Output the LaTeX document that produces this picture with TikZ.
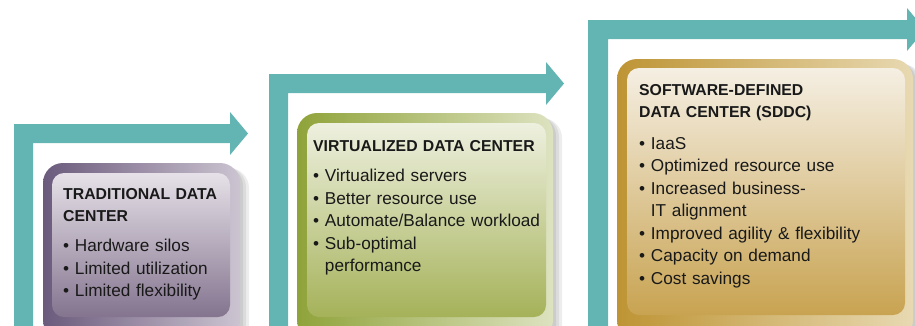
\documentclass[tikz,border=0pt]{standalone}
\usepackage{fontspec}
\setmainfont{Liberation Sans}
\definecolor{arrowteal}{HTML}{62B5B3}
\definecolor{tradframe}{HTML}{6B5A7C}
\definecolor{tradedge}{HTML}{CCC4D1}
\definecolor{tradtop}{HTML}{E6E1E8}
\definecolor{tradbot}{HTML}{84748F}
\definecolor{virtframe}{HTML}{8FA33A}
\definecolor{virtedge}{HTML}{DDE2C0}
\definecolor{virttop}{HTML}{EEF0DF}
\definecolor{virtbot}{HTML}{A5B259}
\definecolor{sddcframe}{HTML}{BE9434}
\definecolor{sddcedge}{HTML}{E8D9B2}
\definecolor{sddctop}{HTML}{F5EFE3}
\definecolor{sddcbot}{HTML}{C8A351}
\tikzset{
  steparrow/.style={fill=arrowteal},
  boxshadow/.style={fill=black,opacity=0.07,rounded corners=20pt},
  boxtitle/.style={anchor=base west,inner sep=0pt,text width=280pt,align=left,
    font=\fontsize{15.8}{22.7}\selectfont\bfseries,text=black!90},
  boxlist/.style={anchor=base west,inner sep=0pt,text width=280pt,align=left,
    font=\fontsize{17.2}{22.5}\selectfont,text=black!90}
}
\newcommand{\itm}{\textbullet\ }
\newcommand{\cnt}{\phantom{\textbullet}\ }
\begin{document}
\begin{tikzpicture}[x=1pt,y=-1pt]
  \clip (0,0) rectangle (915,325);
  % bent arrows
  \fill[steparrow] (14,340) -- (14,124) -- (230,124) -- (230,112) -- (248,133.5)
    -- (230,155) -- (230,143) -- (33,143) -- (33,340) -- cycle;
  \fill[steparrow] (269,340) -- (269,74) -- (546,74) -- (546,62) -- (564,83.5)
    -- (546,105) -- (546,93) -- (288,93) -- (288,340) -- cycle;
  \fill[steparrow] (588,340) -- (588,20) -- (907,20) -- (907,8) -- (925,29.5)
    -- (907,51) -- (907,39) -- (608,39) -- (608,340) -- cycle;
  % traditional
  \fill[boxshadow] (45,166) rectangle (243,345);
  \fill[boxshadow] (46,167) rectangle (246,345);
  \fill[boxshadow] (47,168) rectangle (249,345);
  \shade[rounded corners=20pt,left color=tradframe,right color=tradedge] (43,163) rectangle (240,340);
  \shade[rounded corners=12pt,top color=tradtop,bottom color=tradbot] (52,173) rectangle (230,317);
  \node[boxtitle] (trad) at (63,199) {TRADITIONAL DATA\\CENTER};
  \node[boxlist] (tradlist) at (63,251.7) {\itm Hardware silos\\\itm Limited utilization\\\itm Limited flexibility};
  % virtualized
  \fill[boxshadow] (299,116) rectangle (556,345);
  \fill[boxshadow] (300,117) rectangle (559,345);
  \fill[boxshadow] (301,118) rectangle (562,345);
  \shade[rounded corners=20pt,left color=virtframe,right color=virtedge] (297,113) rectangle (553,340);
  \shade[rounded corners=12pt,top color=virttop,bottom color=virtbot] (307,123) rectangle (546,317);
  \node[boxtitle] (virt) at (313,151.7) {VIRTUALIZED DATA CENTER};
  \node[boxlist] (virtlist) at (313,181.7) {\itm Virtualized servers\\\itm Better resource use\\\itm Automate/Balance workload\\\itm Sub-optimal\\\cnt performance};
  % software-defined
  \fill[boxshadow] (619,62) rectangle (916,345);
  \fill[boxshadow] (620,63) rectangle (919,345);
  \fill[boxshadow] (621,64) rectangle (922,345);
  \shade[rounded corners=20pt,left color=sddcframe,right color=sddcedge] (617,59) rectangle (913,340);
  \shade[rounded corners=12pt,top color=sddctop,bottom color=sddcbot] (627,68) rectangle (905,315);
  \node[boxtitle] (sddc) at (639,95) {SOFTWARE-DEFINED\\DATA CENTER (SDDC)};
  \node[boxlist] (sddclist) at (639,149) {\itm IaaS\\\itm Optimized resource use\\\itm Increased business-\\\cnt IT alignment\\\itm Improved agility \& flexibility\\\itm Capacity on demand\\\itm Cost savings};
\end{tikzpicture}
\end{document}
